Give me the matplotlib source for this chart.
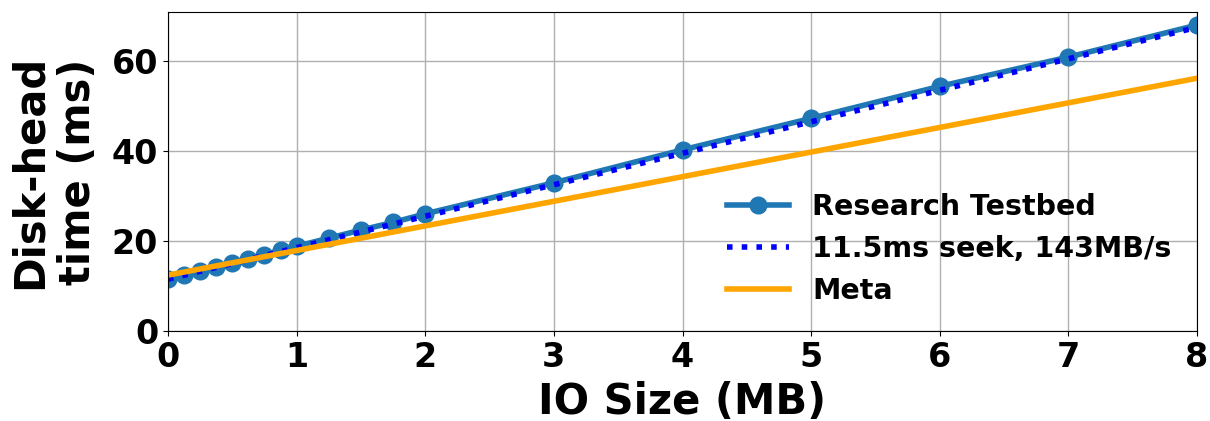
import matplotlib
matplotlib.use("Agg")
import matplotlib.pyplot as plt

# measured disk-head time per IO size
io_size_mb = [0, 0.125, 0.25, 0.375, 0.5, 0.625, 0.75, 0.875, 1.0,
              1.25, 1.5, 1.75, 2, 3, 4, 5, 6, 7, 8]
testbed_ms = [11.5, 12.4, 13.3, 14.2, 15.1, 16.0, 16.9, 17.9, 18.8,
              20.6, 22.4, 24.1, 26.0, 32.9, 40.2, 47.2, 54.3, 60.8, 67.9]

# simple model: 11.5ms seek + transfer at 143MB/s
model_x = [0, 8]
model_ms = [11.5, 67.4]

# Meta disk profile
meta_x = [0, 8]
meta_ms = [12.4, 56.1]


def main():
    plt.rcParams["font.weight"] = "bold"
    plt.rcParams["axes.labelweight"] = "bold"

    fig, ax = plt.subplots(figsize=(12.1, 4.21), dpi=100)
    fig.subplots_adjust(left=0.1388, right=0.9893, top=0.9715, bottom=0.2138)

    ax.plot(io_size_mb, testbed_ms, color="tab:blue", linewidth=4,
            marker="o", markersize=12, label="Research Testbed")
    ax.plot(model_x, model_ms, color="blue", linestyle=":", linewidth=4,
            label="11.5ms seek, 143MB/s")
    ax.plot(meta_x, meta_ms, color="orange", linewidth=4, label="Meta")

    ax.set_xlim(0, 8)
    ax.set_ylim(0, 70.8)
    ax.set_yticks([0, 20, 40, 60])
    ax.set_xlabel("IO Size (MB)", fontsize=30, labelpad=5)
    ax.set_ylabel("Disk-head\ntime (ms)", fontsize=30, labelpad=9)
    ax.tick_params(labelsize=24)
    ax.grid(True, color="#b0b0b0", linewidth=1)
    ax.set_axisbelow(True)

    ax.legend(loc="lower right", fontsize=20.5, frameon=False,
              handlelength=2.2, labelspacing=0.5,
              bbox_to_anchor=(1.0, 0.0))

    fig.savefig("out.png", dpi=100)


if __name__ == "__main__":
    main()
